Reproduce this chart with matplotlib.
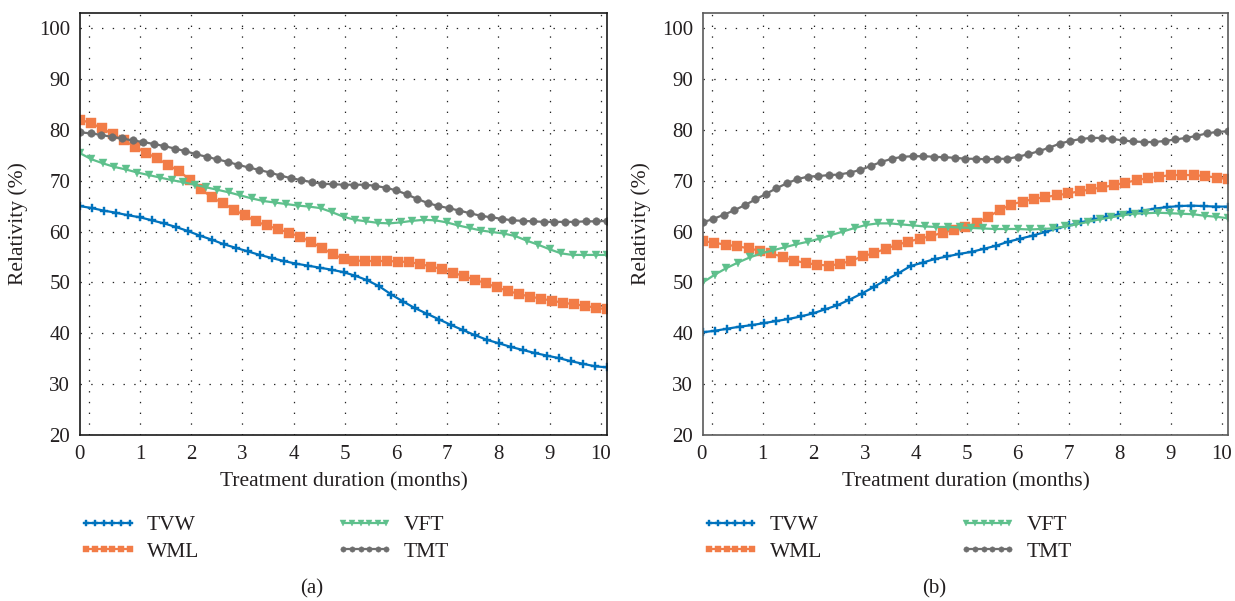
import numpy as np
import matplotlib
matplotlib.use('Agg')
import matplotlib.pyplot as plt
from matplotlib.transforms import ScaledTranslation

plt.rcParams['font.family'] = ['Liberation Serif', 'DejaVu Serif']
plt.rcParams['text.color'] = '#231f20'
plt.rcParams['axes.labelcolor'] = '#231f20'
plt.rcParams['xtick.color'] = '#231f20'
plt.rcParams['ytick.color'] = '#231f20'

series_names = ['TVW', 'WML', 'VFT', 'TMT']
month_ticks = list(range(0, 11))
relativity_ticks = list(range(20, 101, 10))
month_start, month_end = -0.17, 10.12

# (a) measured values along the treatment period
tvw_a = [65.0, 64.6, 64.1, 63.7, 63.2, 62.8, 62.2, 61.6, 60.9, 60.1,
         59.2, 58.4, 57.5, 56.8, 56.1, 55.4, 54.8, 54.2, 53.7, 53.3,
         52.9, 52.5, 52.0, 51.3, 50.4, 49.2, 47.6, 46.2, 44.9, 43.8,
         42.7, 41.6, 40.6, 39.6, 38.7, 38.0, 37.3, 36.7, 36.1, 35.6,
         35.1, 34.5, 34.0, 33.5, 33.3]
wml_a = [82.0, 81.3, 80.3, 79.1, 77.9, 76.7, 75.5, 74.4, 73.1, 71.9,
         70.2, 68.4, 66.7, 65.6, 64.3, 63.2, 62.0, 61.2, 60.5, 59.8,
         59.0, 58.0, 56.8, 55.6, 54.6, 54.3, 54.2, 54.2, 54.2, 54.1,
         54.0, 53.6, 53.1, 52.6, 51.9, 51.2, 50.5, 49.8, 49.0, 48.3,
         47.7, 47.2, 46.8, 46.4, 46.0, 45.7, 45.4, 45.0, 44.7]
vft_a = [75.4, 74.2, 73.4, 72.7, 72.2, 71.6, 71.1, 70.6, 70.1, 69.7,
         69.2, 68.7, 68.2, 67.7, 67.1, 66.5, 66.0, 65.7, 65.4, 65.1,
         64.9, 64.6, 63.8, 62.9, 62.3, 62.0, 61.7, 61.6, 61.8, 62.1,
         62.3, 62.2, 61.8, 61.2, 60.7, 60.2, 59.9, 59.6, 59.1, 58.2,
         57.4, 56.5, 55.7, 55.4, 55.4, 55.4, 55.4]
tmt_a = [79.5, 79.3, 79.0, 78.6, 78.3, 77.9, 77.6, 77.2, 76.8, 76.3,
         75.8, 75.2, 74.7, 74.2, 73.7, 73.1, 72.6, 72.1, 71.6, 71.0,
         70.5, 70.1, 69.7, 69.4, 69.3, 69.2, 69.2, 69.2, 69.0, 68.6,
         68.1, 67.3, 66.4, 65.6, 65.0, 64.6, 64.1, 63.6, 63.1, 62.8,
         62.5, 62.2, 62.1, 62.0, 61.9, 61.9, 61.9, 61.9, 62.0, 62.0,
         62.1]

# (b)
tvw_b = [40.2, 40.5, 40.9, 41.3, 41.6, 42.0, 42.4, 42.8, 43.3, 43.9,
         44.7, 45.5, 46.6, 47.8, 49.1, 50.5, 51.8, 53.2, 53.9, 54.6,
         55.1, 55.6, 56.0, 56.6, 57.2, 58.0, 58.6, 59.2, 59.9, 60.6,
         61.2, 61.8, 62.4, 62.9, 63.3, 63.8, 64.1, 64.5, 64.8, 65.0,
         65.1, 65.0, 64.9, 64.9]
wml_b = [58.1, 57.8, 57.4, 57.1, 56.7, 56.2, 55.7, 55.0, 54.3, 53.8,
         53.5, 53.3, 53.6, 54.3, 55.1, 55.8, 56.6, 57.4, 58.0, 58.6,
         59.1, 59.8, 60.3, 60.9, 61.7, 62.9, 64.2, 65.3, 65.9, 66.4,
         66.8, 67.1, 67.5, 67.9, 68.3, 68.7, 69.1, 69.6, 70.1, 70.5,
         70.8, 71.1, 71.1, 71.1, 70.9, 70.6, 70.3]
vft_b = [50.0, 51.5, 52.8, 53.9, 54.9, 55.7, 56.3, 56.9, 57.5, 58.0,
         58.6, 59.3, 60.0, 60.7, 61.3, 61.6, 61.6, 61.4, 61.2, 61.0,
         60.9, 60.9, 60.8, 60.7, 60.6, 60.5, 60.5, 60.5, 60.4, 60.5,
         60.6, 61.0, 61.4, 61.9, 62.4, 62.8, 63.2, 63.5, 63.6, 63.7,
         63.6, 63.5, 63.4, 63.1, 62.9, 62.6]
tmt_b = [61.8, 62.5, 63.3, 64.2, 65.2, 66.3, 67.4, 68.5, 69.5, 70.3,
         70.8, 70.9, 71.1, 71.2, 71.6, 72.1, 72.9, 73.7, 74.3, 74.7,
         74.8, 74.8, 74.7, 74.6, 74.5, 74.3, 74.3, 74.2, 74.3, 74.3,
         74.7, 75.2, 75.8, 76.5, 77.3, 77.8, 78.2, 78.4, 78.4, 78.2,
         77.9, 77.7, 77.6, 77.6, 77.8, 78.1, 78.4, 78.8, 79.3, 79.6,
         79.7]

colors = ['#0072bd', '#f27c47', '#5ec08c', '#6e6e6e']
markers = ['P', 's', 'v', 'o']
msizes = [6, 6.5, 6, 5.5]

fig = plt.figure(figsize=(12.35, 6.01), dpi=100)


def draw_panel(ax, values, tag, spine_color):
    for name, vals, c, m, ms in zip(series_names, values, colors, markers, msizes):
        months = np.linspace(month_start, month_end, len(vals))
        ax.plot(months, vals, color=c, lw=1.6, marker=m, ms=ms,
                markeredgewidth=0.3, markeredgecolor=c, label=name)
    ax.set_xlim(month_start, month_end)
    ax.set_ylim(20, 102.96)
    ax.set_xticks(month_ticks)
    ax.set_yticks(relativity_ticks)
    ax.tick_params(length=0, labelsize=15)
    ax.tick_params(axis='x', pad=7)
    ax.tick_params(axis='y', pad=7)
    # the "0" label sits against the left spine
    first = ax.get_xticklabels()[0]
    first.set_transform(first.get_transform()
                        + ScaledTranslation(-7 / 72, 0, fig.dpi_scale_trans))
    ax.grid(True, color='#222222', lw=0.9, linestyle=(0, (1.1, 7.5)))
    for s in ax.spines.values():
        s.set_color(spine_color)
        s.set_linewidth(1.2)
    ax.set_xlabel('Treatment duration (months)', fontsize=15.5, labelpad=6)
    ax.set_ylabel('Relativity (%)', fontsize=15.5, labelpad=8)
    ax.legend(loc='upper left', bbox_to_anchor=(0.0, -0.19), ncol=2,
              frameon=False, fontsize=15.5, handlelength=2.6,
              handletextpad=0.5, columnspacing=6.4, labelspacing=0.3,
              borderaxespad=0, borderpad=0, numpoints=6, markerscale=0.7)
    ax.text(0.44, -0.365, tag, transform=ax.transAxes, fontsize=15,
            ha='center', va='center')


ax_a = fig.add_axes([0.0648, 0.2762, 0.4267, 0.7022])
ax_b = fig.add_axes([0.5692, 0.2762, 0.4251, 0.7022])

draw_panel(ax_a, [tvw_a, wml_a, vft_a, tmt_a], '(a)', '#1a1a1a')
draw_panel(ax_b, [tvw_b, wml_b, vft_b, tmt_b], '(b)', '#5a5a5a')

fig.savefig('out.png', dpi=100)
